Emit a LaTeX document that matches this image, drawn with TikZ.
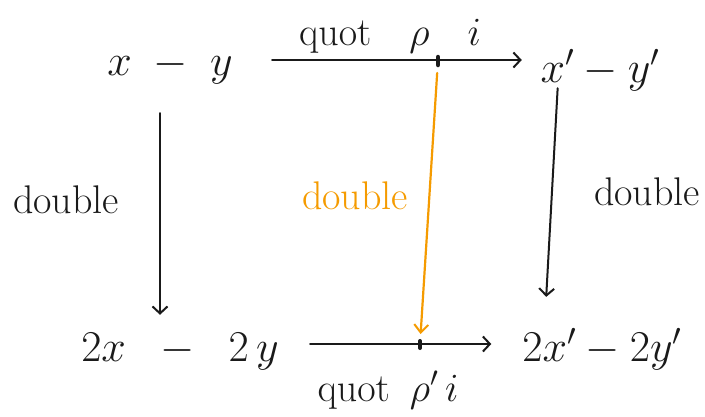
\RequirePackage{fix-cm}
\documentclass[tikz,border=0pt]{standalone}
\usetikzlibrary{arrows.meta}
\definecolor{hand}{HTML}{1A1A1A}
\definecolor{orangepen}{HTML}{F59B00}
\tikzset{
  term/.style={inner sep=0pt, minimum height=60pt, font=\fontsize{44}{48}\selectfont, text=hand},
  lbl/.style={inner sep=0pt, font=\fontsize{40}{44}\selectfont, text=hand},
  arr/.style={draw=hand, line width=2pt, line cap=round, -{Straight Barb[length=7pt,width=15pt,line width=2pt]}},
  oarr/.style={draw=orangepen, line width=2.2pt, line cap=round, -{Straight Barb[length=8pt,width=14pt,line width=2pt]}},
  tick/.style={draw=hand, line width=4.5pt, line cap=round}
}
\begin{document}
\begin{tikzpicture}[x=1pt,y=-1pt]
\useasboundingbox[fill=white] (0,0) rectangle (705,416);
% terms
\node[term, minimum width=130pt] (A) at (170,67) {$x\;-\;y$};
\node[term, minimum width=130pt] (B) at (600,70) {$x'-y'$};
\node[term, minimum width=210pt] (C) at (180,352) {$2x\;\;-\;\;2\,y$};
\node[term, minimum width=195pt] (D) at (602,349) {$2x'-2y'$};
% crossing marks
\coordinate (dT) at (438,60);
\coordinate (dB) at (420,344);
% horizontal arrows
\draw[arr, shorten <=37pt, shorten >=13pt] (A.east |- dT) -- (B.west |- dT);
\draw[arr, shorten <=25pt, shorten >=13pt] (C.east |- dB) -- (D.west |- dB);
\draw[tick] ([yshift=3pt]dT) -- ([yshift=-5pt]dT);
\draw[tick, line width=4pt] ([yshift=3pt]dB) -- ([yshift=-4pt]dB);
% vertical arrows
\draw[arr, shorten <=16pt, shorten >=7pt] ([xshift=-10pt]A.south) -- ([xshift=-20pt]C.north);
\draw[arr, shorten <=-12pt, shorten >=22pt] ([xshift=-43pt]B.south) -- ([xshift=-57pt]D.north);
\draw[oarr, shorten <=13pt, shorten >=10pt] (dT) -- (dB);
% labels
\node[lbl] (l1) at (390,36) {$\mathrm{quot}\hspace{38pt}\rho\hspace{38pt}i$};
\node[lbl] (l2) at (388,390) {$\mathrm{quot}\hspace{20pt}\rho'\,i$};
\node[lbl] (l3) at (66,200) {double};
\node[lbl, text=orangepen] (l4) at (355,196) {double};
\node[lbl] (l5) at (647,192) {double};
\end{tikzpicture}
\end{document}
